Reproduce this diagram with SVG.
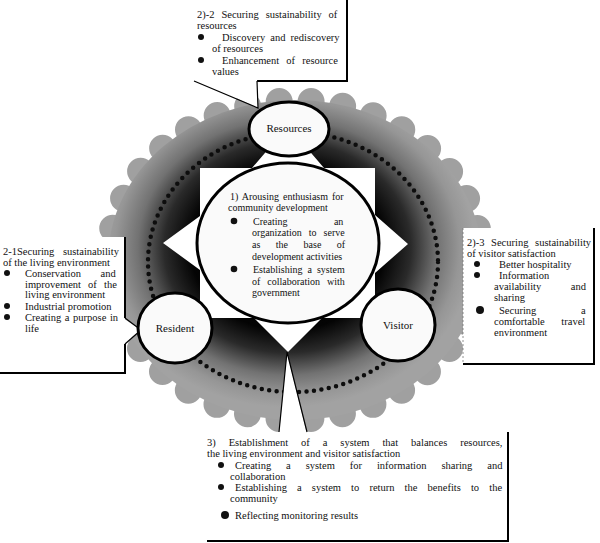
<svg xmlns="http://www.w3.org/2000/svg" width="600" height="543" viewBox="0 0 600 543">
<defs>
<radialGradient id="gearFill" cx="0.48" cy="0.46" r="0.5">
<stop offset="0" stop-color="#000"/>
<stop offset="0.52" stop-color="#040404"/>
<stop offset="0.66" stop-color="#2a2a2a"/>
<stop offset="0.8" stop-color="#727272"/>
<stop offset="0.92" stop-color="#969696"/>
<stop offset="1" stop-color="#a2a2a2"/>
</radialGradient>
<style>
.t{font-family:"Liberation Serif","Times New Roman",serif;font-size:10.5px;fill:#111}
.c{font-size:10px}
.lbl{font-family:"Liberation Serif","Times New Roman",serif;font-size:11px;fill:#111;text-anchor:middle}
.box{fill:#fff;stroke:none}
.edge{fill:none;stroke:#000;stroke-width:2}
.thin{fill:none;stroke:#000;stroke-width:1.2}
.faint{fill:none;stroke:#777;stroke-width:0.8;stroke-dasharray:2 2}
.node{fill:#fafafa;stroke:#000;stroke-width:3}
.bul{fill:#111}
</style>
</defs>
<rect width="600" height="543" fill="#fff"/>

<g id="background">
<ellipse cx="295" cy="260" rx="186" ry="159" fill="#a0a0a0" stroke="#a0a0a0" stroke-width="27" stroke-dasharray="0 31.92" stroke-linecap="round"/>
<ellipse cx="295" cy="260" rx="187" ry="160" fill="url(#gearFill)"/>
<ellipse cx="293" cy="262" rx="145" ry="130" fill="none" stroke="#0d0d0d" stroke-width="4.5" stroke-dasharray="0 7.5" stroke-linecap="round"/>
<polygon fill="#fff" points="200,168 252,168 288,126 324,168 375,168 375,215 408,244 375,273 375,318 322,318 288,352 254,318 200,318 200,270 163,243 200,216"/>
</g>

<g id="center">
<ellipse class="node" cx="288" cy="243" rx="91" ry="80"/>
<text class="t c" x="230" y="200" style="word-spacing:1.5px">1) Arousing enthusiasm for</text>
<text class="t c" x="228" y="211">community development</text>
<circle class="bul" cx="234" cy="221" r="3.3"/>
<text class="t c" x="253" y="225" style="word-spacing:44px">Creating an</text>
<text class="t c" x="252" y="236" style="word-spacing:4.5px">organization to serve</text>
<text class="t c" x="252" y="248" style="word-spacing:13px">as the base of</text>
<text class="t c" x="252" y="260">development activities</text>
<circle class="bul" cx="234" cy="269" r="3.3"/>
<text class="t c" x="253" y="273" style="word-spacing:2.5px">Establishing a system</text>
<text class="t c" x="252" y="285" style="word-spacing:4.5px">of collaboration with</text>
<text class="t c" x="252" y="296">government</text>
</g>

<g id="box-resources">
<rect class="box" x="192" y="-2" width="155" height="83"/>
<path class="edge" d="M347,-2 V81 H257"/>
<text class="t" x="197" y="18" style="word-spacing:4.3px">2)-2 Securing sustainability of</text>
<text class="t" x="197" y="29">resources</text>
<circle class="bul" cx="201" cy="37" r="3"/>
<text class="t" x="222" y="41" style="word-spacing:2.5px">Discovery and rediscovery</text>
<text class="t" x="212" y="52">of resources</text>
<circle class="bul" cx="201" cy="60" r="3"/>
<text class="t" x="222" y="64" style="word-spacing:4.6px">Enhancement of resource</text>
<text class="t" x="212" y="75">values</text>
</g>

<g id="box-living">
<rect class="box" x="-2" y="237" width="127" height="136"/>
<path class="edge" d="M125,237 V318 M125,344 V373 H-2"/>
<text class="t" x="3" y="255" style="word-spacing:6px">2-1Securing sustainability</text>
<text class="t" x="3" y="266">of the living environment</text>
<circle class="bul" cx="7" cy="273" r="3"/>
<text class="t" x="25" y="277" style="word-spacing:17px">Conservation and</text>
<text class="t" x="25" y="288" style="word-spacing:4.5px">improvement of the</text>
<text class="t" x="25" y="298">living environment</text>
<circle class="bul" cx="7" cy="306" r="3"/>
<text class="t" x="25" y="310">Industrial promotion</text>
<circle class="bul" cx="7" cy="317" r="3"/>
<text class="t" x="25" y="321" style="word-spacing:1px">Creating a purpose in</text>
<text class="t" x="25" y="332">life</text>
</g>

<g id="box-visitor">
<rect class="box" x="463" y="228" width="131" height="136"/>
<path class="faint" d="M463,228 V364"/>
<path class="edge" d="M594,228 V364 H463"/>
<text class="t" x="467" y="246" style="word-spacing:4px">2)-3 Securing sustainability</text>
<text class="t" x="467" y="257">of visitor satisfaction</text>
<circle class="bul" cx="477" cy="264" r="3"/>
<text class="t" x="499" y="268">Better hospitality</text>
<circle class="bul" cx="477" cy="275" r="3"/>
<text class="t" x="499" y="279">Information</text>
<text class="t" x="494" y="290" style="word-spacing:27px">availability and</text>
<text class="t" x="494" y="301">sharing</text>
<circle class="bul" cx="480" cy="310" r="4"/>
<text class="t" x="499" y="314" style="word-spacing:42px">Securing a</text>
<text class="t" x="494" y="325" style="word-spacing:14px">comfortable travel</text>
<text class="t" x="494" y="336">environment</text>
</g>

<g id="box-system">
<rect class="box" x="207" y="432" width="301" height="109"/>
<path class="edge" d="M508,432 V541 H207"/>
<text class="t" x="207" y="446" style="word-spacing:10.3px">3) Establishment of a system that balances resources,</text>
<text class="t" x="207" y="457">the living environment and visitor satisfaction</text>
<circle class="bul" cx="221" cy="465" r="3"/>
<text class="t" x="235" y="469" style="word-spacing:12.3px">Creating a system for information sharing and</text>
<text class="t" x="230" y="480">collaboration</text>
<circle class="bul" cx="221" cy="487" r="3"/>
<text class="t" x="235" y="491" style="word-spacing:7.5px">Establishing a system to return the benefits to the</text>
<text class="t" x="230" y="502">community</text>
<circle class="bul" cx="225" cy="515" r="4"/>
<text class="t" x="235" y="519">Reflecting monitoring results</text>
</g>

<g id="connectors">
<polygon fill="#fff" points="194,79 258,108 257,79"/>
<path class="thin" d="M194,81 L258,108 L257,81"/>
<polygon fill="#fff" points="123,318 141,330 123,344"/>
<path class="thin" d="M125,318 L141,330 L125,344"/>
<polygon fill="#fff" points="279,434 287,352 307,434"/>
<path class="thin" d="M279,432 L287,352 L307,432"/>
</g>

<g id="node-resources">
<ellipse class="node" cx="289" cy="129" rx="40" ry="27" stroke-width="2.5"/>
<text class="lbl" x="289" y="132">Resources</text>
</g>
<g id="node-resident">
<ellipse class="node" cx="175" cy="328" rx="37" ry="35"/>
<text class="lbl" x="175" y="332">Resident</text>
</g>
<g id="node-visitor">
<ellipse class="node" cx="398" cy="325" rx="37" ry="36"/>
<text class="lbl" x="398" y="329">Visitor</text>
</g>
</svg>
